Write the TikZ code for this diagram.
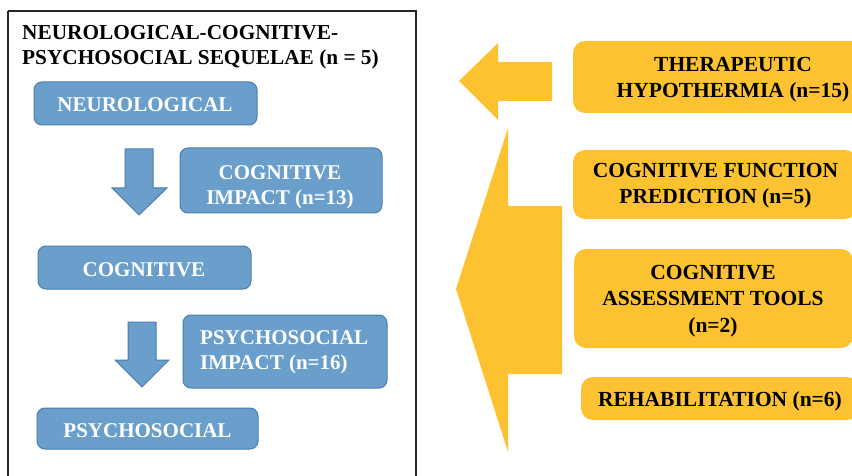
\documentclass[tikz,border=0pt]{standalone}
\usepackage{fontspec}
\setmainfont{Liberation Serif}
\definecolor{bluefill}{HTML}{6A9FCB}
\definecolor{blueline}{HTML}{4A7DAB}
\definecolor{yel}{HTML}{FDC231}
\begin{document}
\begin{tikzpicture}[x=1pt,y=-1pt,
  bluebox/.style={draw=blueline, fill=bluefill, line width=1pt, rounded corners=8pt, inner sep=0pt},
  yelbox/.style={fill=yel, rounded corners=12pt, inner sep=0pt},
  bluetext/.style={text=white, font=\bfseries\fontsize{21}{25}\selectfont, align=center, inner sep=0pt},
  yeltext/.style={text=black, font=\bfseries\fontsize{21.5}{26.5}\selectfont, align=center, inner sep=0pt},
  titletext/.style={text=black, font=\bfseries\fontsize{21.3}{25}\selectfont, align=left, inner sep=0pt},
  blockarrow/.style={draw=blueline, fill=bluefill, line width=1pt},
  yelarrow/.style={fill=yel}]
\useasboundingbox (0,0) rectangle (852,476);
\clip (0,0) rectangle (852,476);
% outer frame
\draw[line width=1.3pt, black!85] (8,11) -- (416,11) -- (416,490) (8,490) -- (8,11);
\node[titletext, anchor=north west] (title) at (22,25) {NEUROLOGICAL-COGNITIVE-\\PSYCHOSOCIAL SEQUELAE (n = 5)};
% blue boxes
\node[bluebox, minimum width=223pt, minimum height=43pt] (neurobox) at (145.5,103.5) {};
\node[bluetext, anchor=base] (neuro) at (145,111.7) {NEUROLOGICAL};
\node[bluebox, minimum width=202pt, minimum height=65pt] (cogimpbox) at (281,180.5) {};
\node[bluetext, anchor=north] (cogimp) at (280,165) {COGNITIVE\\IMPACT (n=13)};
\node[bluebox, minimum width=213pt, minimum height=43pt] (cogbox) at (144.5,267.5) {};
\node[bluetext, anchor=base] (cog) at (144,276) {COGNITIVE};
\node[bluebox, minimum width=204pt, minimum height=73pt] (psyimpbox) at (285,351.5) {};
\node[bluetext, align=left, anchor=north west] (psyimp) at (200,330) {PSYCHOSOCIAL\\IMPACT (n=16)};
\node[bluebox, minimum width=221pt, minimum height=41pt] (psybox) at (147.5,428.5) {};
\node[bluetext, anchor=base] (psy) at (147.5,437) {PSYCHOSOCIAL};
% blue block arrows
\draw[blockarrow] (125,149) -- (153,149) -- (153,188) -- (167,188) -- (139,215) -- (112,188) -- (125,188) -- cycle;
\draw[blockarrow] (128,322) -- (156,322) -- (156,360) -- (169,360) -- (142,387) -- (115,360) -- (128,360) -- cycle;
% yellow arrows
\fill[yelarrow] (552,62) -- (498,62) -- (498,43) -- (459,81) -- (498,120) -- (498,101) -- (552,101) -- cycle;
\fill[yelarrow] (508,128) -- (508,206) -- (562,206) -- (562,374) -- (508,374) -- (508,452) -- (456,289) -- cycle;
% yellow boxes
\node[yelbox, minimum width=320pt, minimum height=72pt] (therabox) at (733,77) {};
\node[yeltext, anchor=north] (thera) at (733,57) {THERAPEUTIC\\HYPOTHERMIA (n=15)};
\node[yelbox, minimum width=284pt, minimum height=69pt] (cfpbox) at (715,184.5) {};
\node[yeltext, anchor=north] (cfp) at (715.5,163) {COGNITIVE FUNCTION\\PREDICTION (n=5)};
\node[yelbox, minimum width=279pt, minimum height=99pt] (catbox) at (713.5,298.5) {};
\node[yeltext, anchor=north] (cat) at (713,265) {COGNITIVE\\ASSESSMENT TOOLS\\(n=2)};
\node[yelbox, minimum width=278pt, minimum height=43pt] (rehabbox) at (720,398.5) {};
\node[yeltext, anchor=base] (rehab) at (720,406) {REHABILITATION (n=6)};
\end{tikzpicture}
\end{document}
